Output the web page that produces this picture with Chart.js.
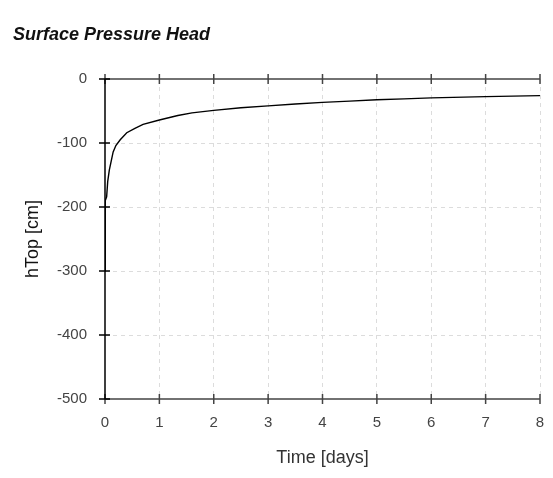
<!DOCTYPE html>
<html>
<head>
<meta charset="utf-8">
<script src="https://cdn.jsdelivr.net/npm/chart.js@4"></script>
<style>
  html, body { margin: 0; padding: 0; background: #fff; }
  #wrap { width: 553px; height: 478px; }
</style>
</head>
<body>
<div id="wrap"><canvas id="myChart" width="553" height="478"></canvas></div>
<script>
// values
var chartTitle = 'Surface Pressure Head';
var xTitle = 'Time [days]';
var yTitle = 'hTop [cm]';
var timeDays = [0, 0.005, 0.03, 0.05, 0.08, 0.15, 0.2, 0.28, 0.4, 0.55, 0.7, 1.0, 1.34, 1.6, 2, 2.5, 3, 3.5, 4, 4.5, 5, 5.5, 6, 7, 8];
var hTop = [-300, -190, -184, -160, -142, -114, -104, -95, -84, -77, -71, -64, -57, -53, -49, -45, -42, -39, -36.5, -34.5, -32.5, -31, -29.5, -27.5, -26];
var xTicks = [0, 1, 2, 3, 4, 5, 6, 7, 8];
var yTicks = [0, -100, -200, -300, -400, -500];

var FONT = "'Liberation Sans', Arial, sans-serif";

// title, frame lines and the little cross ticks
var framePlugin = {
    id: 'frame',
    afterDatasetsDraw: function(chart) {
        var ctx = chart.ctx;
        var x = chart.scales.x, y = chart.scales.y;
        var x0 = x.getPixelForValue(0), x8 = x.getPixelForValue(8);
        var yTop = y.getPixelForValue(0), yBot = y.getPixelForValue(-500);
        ctx.save();
        ctx.lineCap = 'butt';
        // top and bottom lines
        ctx.strokeStyle = '#444';
        ctx.lineWidth = 1.5;
        ctx.beginPath();
        ctx.moveTo(x0, yTop); ctx.lineTo(x8, yTop);
        ctx.moveTo(x0, yBot); ctx.lineTo(x8, yBot);
        xTicks.forEach(function(t) {
            var px = x.getPixelForValue(t);
            ctx.moveTo(px, yTop - 5); ctx.lineTo(px, yTop + 5);
            ctx.moveTo(px, yBot - 5); ctx.lineTo(px, yBot + 5);
        });
        ctx.stroke();
        // left axis
        ctx.strokeStyle = '#000';
        ctx.lineWidth = 1.5;
        ctx.beginPath();
        ctx.moveTo(x0, yTop); ctx.lineTo(x0, yBot);
        yTicks.forEach(function(v) {
            var py = y.getPixelForValue(v);
            ctx.moveTo(x0 - 6, py); ctx.lineTo(x0 + 5, py);
        });
        ctx.stroke();
        // chart title
        ctx.fillStyle = '#111';
        ctx.font = 'italic bold 18px ' + FONT;
        ctx.textAlign = 'left';
        ctx.textBaseline = 'middle';
        ctx.fillText(chartTitle, 13, 35);
        ctx.restore();
    }
};

var ctx = document.getElementById('myChart').getContext('2d');
var myChart = new Chart(ctx, {
    type: 'line',
    data: {
        datasets: [{
            data: timeDays.map(function(t, i) { return { x: t, y: hTop[i] }; }),
            borderColor: '#000',
            borderWidth: 1.4,
            pointRadius: 0,
            tension: 0,
            fill: false
        }]
    },
    options: {
        responsive: false,
        animation: false,
        events: [],
        layout: { padding: { left: 18, right: 13, top: 79, bottom: 0 } },
        plugins: {
            legend: { display: false },
            tooltip: { enabled: false }
        },
        scales: {
            x: {
                type: 'linear',
                min: 0,
                max: 8,
                afterBuildTicks: function(scale) {
                    scale.ticks = xTicks.map(function(v) { return { value: v }; });
                },
                afterFit: function(scale) {
                    scale.height = 79;
                    scale.paddingLeft = 0;
                    scale.paddingRight = 0;
                },
                border: { display: false, dash: [4, 4] },
                grid: {
                    drawTicks: false,
                    color: function(c) { return c.tick.value === 0 ? 'rgba(0,0,0,0)' : '#dcdcdc'; },
                    lineWidth: 1
                },
                ticks: {
                    padding: 15,
                    color: '#444',
                    font: { family: FONT, size: 15 }
                },
                title: {
                    display: true,
                    text: xTitle,
                    color: '#333',
                    font: { family: FONT, size: 18 },
                    padding: { top: 4, bottom: 9 }
                }
            },
            y: {
                type: 'linear',
                min: -500,
                max: 0,
                afterBuildTicks: function(scale) {
                    scale.ticks = yTicks.map(function(v) { return { value: v }; });
                },
                afterFit: function(scale) {
                    scale.width = 87;
                    scale.paddingTop = 0;
                    scale.paddingBottom = 0;
                },
                border: { display: false, dash: [4, 4] },
                grid: {
                    drawTicks: false,
                    color: function(c) {
                        return (c.tick.value === 0 || c.tick.value === -500) ? 'rgba(0,0,0,0)' : '#dcdcdc';
                    },
                    lineWidth: 1
                },
                ticks: {
                    padding: 18,
                    color: '#444',
                    font: { family: FONT, size: 15 }
                },
                title: {
                    display: true,
                    text: yTitle,
                    color: '#111',
                    font: { family: FONT, size: 18 },
                    padding: { top: 4, bottom: 4 }
                }
            }
        }
    },
    plugins: [framePlugin]
});
</script>
</body>
</html>
